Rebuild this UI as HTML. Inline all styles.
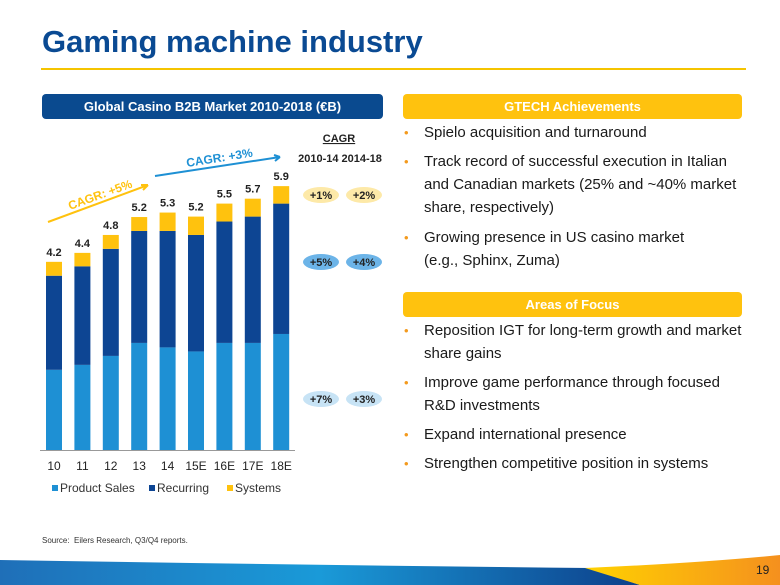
<!DOCTYPE html>
<html><head><meta charset="utf-8"><style>
body{margin:0;width:780px;height:585px;overflow:hidden;background:#fff;font-family:"Liberation Sans",sans-serif;position:relative}
.abs{position:absolute}
.hdr{position:absolute;height:25px;border-radius:4px;color:#fff;font-weight:bold;font-size:13px;text-align:center;line-height:25px}
.b{position:absolute;left:424px;font-size:15px;color:#1a1a1a;line-height:23px;width:322px}
.b:before{content:"•";color:#f39a1e;position:absolute;left:-20px;font-size:13px}
</style></head><body>
<div class="abs" style="left:42px;top:24px;font-size:31px;font-weight:bold;color:#0a4a93">Gaming machine industry</div>
<div class="abs" style="left:41px;top:68px;width:705px;height:2px;background:#f5c400"></div>
<div class="hdr" style="left:42px;top:94px;width:341px;background:#0a4a8f">Global Casino B2B Market 2010-2018 (€B)</div>
<div class="hdr" style="left:403px;top:94px;width:339px;background:#ffc20e">GTECH Achievements</div>
<div class="hdr" style="left:403px;top:292px;width:339px;background:#ffc20e">Areas of Focus</div>
<div class="b" style="top:121px">Spielo acquisition and turnaround</div>
<div class="b" style="top:150px">Track record of successful execution in Italian<br>and Canadian markets (25% and ~40% market<br>share, respectively)</div>
<div class="b" style="top:226px">Growing presence in US casino market<br>(e.g., Sphinx, Zuma)</div>
<div class="b" style="top:319px">Reposition IGT for long-term growth and market<br>share gains</div>
<div class="b" style="top:371px">Improve game performance through focused<br>R&amp;D investments</div>
<div class="b" style="top:423px">Expand international presence</div>
<div class="b" style="top:452px">Strengthen competitive position in systems</div>
<div class="abs" style="left:42px;top:536px;font-size:8px;color:#333">Source:&nbsp; Eilers Research, Q3/Q4 reports.</div>
<svg class="abs" style="left:0;top:0" width="780" height="585">
<defs><linearGradient id="bg" x1="0" x2="1"><stop offset="0" stop-color="#1f6fb8"/><stop offset="0.5" stop-color="#1a9ad8"/><stop offset="1" stop-color="#0d3f8a"/></linearGradient>
<linearGradient id="yg" x1="0" x2="1"><stop offset="0" stop-color="#ffd200"/><stop offset="1" stop-color="#f5901e"/></linearGradient></defs>
<path d="M0,560 Q300,565 590,568 L640,585 L0,585 Z" fill="url(#bg)"/>
<path d="M585,568 Q700,563 780,555 L780,585 L640,585 Z" fill="url(#yg)"/>
<text x="756" y="574" font-size="12" fill="#222">19</text>
<g id="chart"></g>
</svg>
<script>
const categories=["10","11","12","13","14","15E","16E","17E","18E"];
const productSales=[1.79,1.90,2.10,2.39,2.29,2.20,2.39,2.39,2.59];
const recurring=[2.10,2.20,2.39,2.50,2.60,2.60,2.71,2.82,2.91];
const systems=[0.31,0.30,0.31,0.31,0.41,0.41,0.40,0.40,0.39];
const totals=["4.2","4.4","4.8","5.2","5.3","5.2","5.5","5.7","5.9"];
const cagrLabels=[["+1%","+2%"],["+5%","+4%"],["+7%","+3%"]];
const NS="http://www.w3.org/2000/svg";
const g=document.getElementById('chart');
const base=450,ppu=44.8,x0=54,step=28.4,bw=16;
const xS=i=>x0+i*step, yS=v=>base-v*ppu;
function mk(t,a){const e=document.createElementNS(NS,t);for(const k in a)e.setAttribute(k,a[k]);g.appendChild(e);return e;}
const cols=["#1e90d4","#0d4593","#ffc20e"];
const series=[productSales,recurring,systems];
const sname=["product-sales","recurring","systems"];
categories.forEach((c,i)=>{
  let acc=0;
  series.forEach((s,k)=>{
    const r=mk('rect',{x:xS(i)-bw/2,y:yS(acc+s[i]),width:bw,height:s[i]*ppu,fill:cols[k]});
    
    
    acc+=s[i];
  });
  const t=mk('text',{x:xS(i),y:yS(acc)-6,'text-anchor':'middle','font-size':11,'font-weight':'bold',fill:'#222'});
  t.textContent=totals[i];
  
  
  const xl=mk('text',{x:xS(i),y:470,'text-anchor':'middle','font-size':12,fill:'#222'});
  xl.textContent=c;
  
  
});
const ax=mk('line',{x1:40,x2:295,y1:base+0.5,y2:base+0.5,stroke:'#999','stroke-width':1});


const leg=[["Product Sales",52],["Recurring",149],["Systems",227]];
leg.forEach((l,k)=>{
  const r=mk('rect',{x:l[1],y:485,width:6,height:6,fill:cols[k]});
  
  
  const t=mk('text',{x:l[1]+8,y:492,'font-size':12,fill:'#333'});t.textContent=l[0];
  
  
});
const a1=mk('path',{d:'M48,222 L148,185 M148,185 l-7,0 M148,185 l-5,5',stroke:'#ffc20e','stroke-width':2,fill:'none'});


const a2=mk('path',{d:'M155,176 L280,157 M280,157 l-6,-2 M280,157 l-5,4',stroke:'#1e90d4','stroke-width':2,fill:'none'});


const c1=mk('text',{x:70,y:210,'font-size':12,'font-weight':'bold',fill:'#ffc20e',transform:'rotate(-20 70 210)'});c1.textContent="CAGR: +5%";


const c2=mk('text',{x:187,y:167,'font-size':12,'font-weight':'bold',fill:'#1e90d4',transform:'rotate(-9 187 167)'});c2.textContent="CAGR: +3%";


const h=mk('text',{x:339,y:142,'text-anchor':'middle','font-size':11,'font-weight':'bold',fill:'#222','text-decoration':'underline'});h.textContent="CAGR";


const p=mk('text',{x:340,y:162,'text-anchor':'middle','font-size':11,'font-weight':'bold',fill:'#222'});p.textContent="2010-14  2014-18";
p.setAttribute('xml:space','preserve');


const ey=[195,262,399],ef=["#fde9a8","#6cb4e8","#c7e3f5"];
cagrLabels.forEach((row,r)=>row.forEach((v,j)=>{
  const cx=[321,364][j];
  const e=mk('ellipse',{cx:cx,cy:ey[r],rx:18,ry:8,fill:ef[r]});
  
  
  const t=mk('text',{x:cx,y:ey[r]+4,'text-anchor':'middle','font-size':11,'font-weight':'bold',fill:'#222'});t.textContent=v;
  
  
}));
</script>
</body></html>
